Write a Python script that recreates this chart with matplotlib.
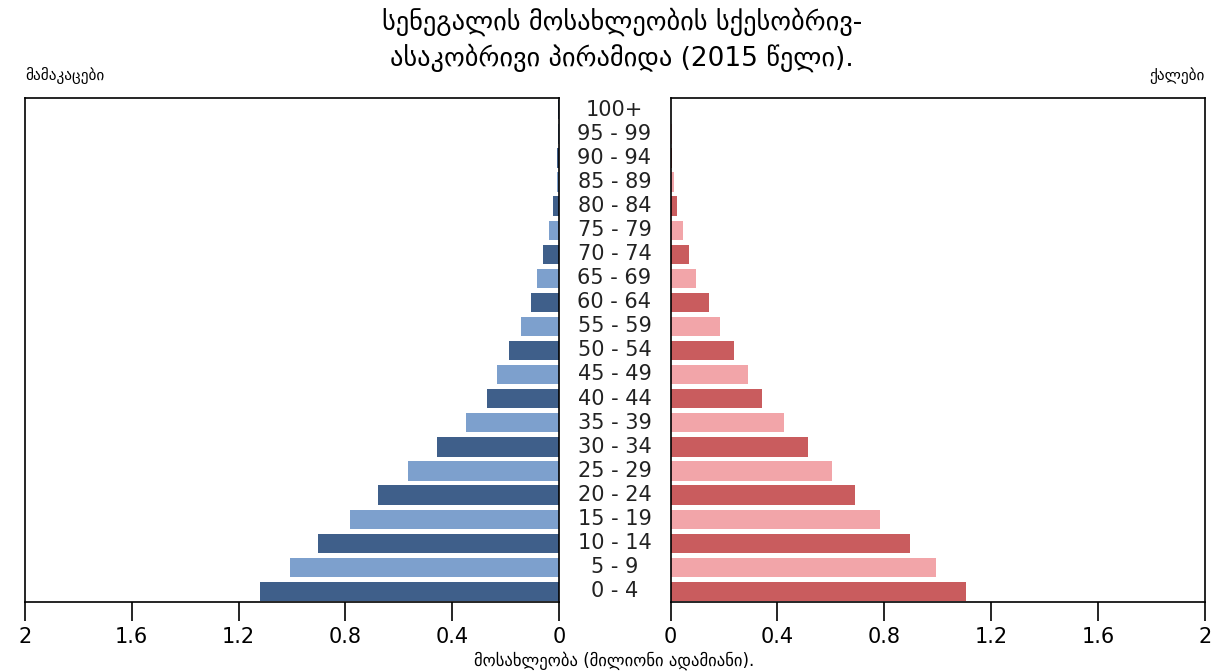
import numpy as np
import matplotlib
matplotlib.use('Agg')
import matplotlib.pyplot as plt

plt.rcParams['font.family'] = ['DejaVu Sans']

# Age groups, bottom to top
age_groups = ['0 - 4', '5 - 9', '10 - 14', '15 - 19', '20 - 24', '25 - 29', '30 - 34',
              '35 - 39', '40 - 44', '45 - 49', '50 - 54', '55 - 59', '60 - 64', '65 - 69',
              '70 - 74', '75 - 79', '80 - 84', '85 - 89', '90 - 94', '95 - 99', '100+']

# Population in millions
males = [1.118, 1.006, 0.902, 0.784, 0.679, 0.565, 0.456, 0.350, 0.268, 0.232, 0.186,
         0.142, 0.105, 0.082, 0.060, 0.037, 0.022, 0.009, 0.006, 0.004, 0.003]
females = [1.104, 0.993, 0.897, 0.785, 0.689, 0.604, 0.516, 0.425, 0.344, 0.291, 0.239,
           0.187, 0.143, 0.095, 0.068, 0.047, 0.026, 0.012, 0.006, 0.004, 0.002]

x_ticks = [0, 0.4, 0.8, 1.2, 1.6, 2]
x_tick_labels = ['0', '0.4', '0.8', '1.2', '1.6', '2']

title = 'სენეგალის მოსახლეობის სქესობრივ-\nასაკობრივი პირამიდა (2015 წელი).'
men_label = 'მამაკაცები'
women_label = 'ქალები'
x_label = 'მოსახლეობა (მილიონი ადამიანი).'

male_colors = ['#3f5f8a', '#7da0cd']
female_colors = ['#c95c5e', '#f2a5a9']

fig = plt.figure(figsize=(12.28, 6.72), dpi=100)
ax_m = fig.add_axes([25 / 1228, 1 - 602 / 672, 534 / 1228, 504 / 672])
ax_f = fig.add_axes([670.5 / 1228, 1 - 602 / 672, 534.5 / 1228, 504 / 672])

y = np.arange(len(age_groups))
ax_m.barh(y, males, height=0.8, color=[male_colors[i % 2] for i in y])
ax_f.barh(y, females, height=0.8, color=[female_colors[i % 2] for i in y])

for ax in (ax_m, ax_f):
    ax.set_ylim(-0.44, 20.49)
    ax.set_yticks([])
    ax.set_xticks(x_ticks)
    ax.set_xticklabels(x_tick_labels)
    ax.tick_params(axis='x', direction='out', length=14, width=1.2, labelsize=15, pad=4)
    for s in ax.spines.values():
        s.set_linewidth(1.2)
ax_m.set_xlim(2, 0)
ax_f.set_xlim(0, 2)

# Age labels between the two panels
for i, lab in enumerate(age_groups):
    fig.text(614.5 / 1228, 1 - (591.2 - i * 24.08) / 672, lab, ha='center', va='center',
             fontsize=15, color='#222222')

fig.text(622 / 1228, 1 - 40 / 672, title, ha='center', va='center', fontsize=19,
         linespacing=1.35)
fig.text(25 / 1228, 1 - 76 / 672, men_label, ha='left', va='center', fontsize=11)
fig.text(1205 / 1228, 1 - 76 / 672, women_label, ha='right', va='center', fontsize=11)
fig.text(614 / 1228, 1 - 661 / 672, x_label, ha='center', va='center', fontsize=12)

fig.savefig('out.png', dpi=100)
